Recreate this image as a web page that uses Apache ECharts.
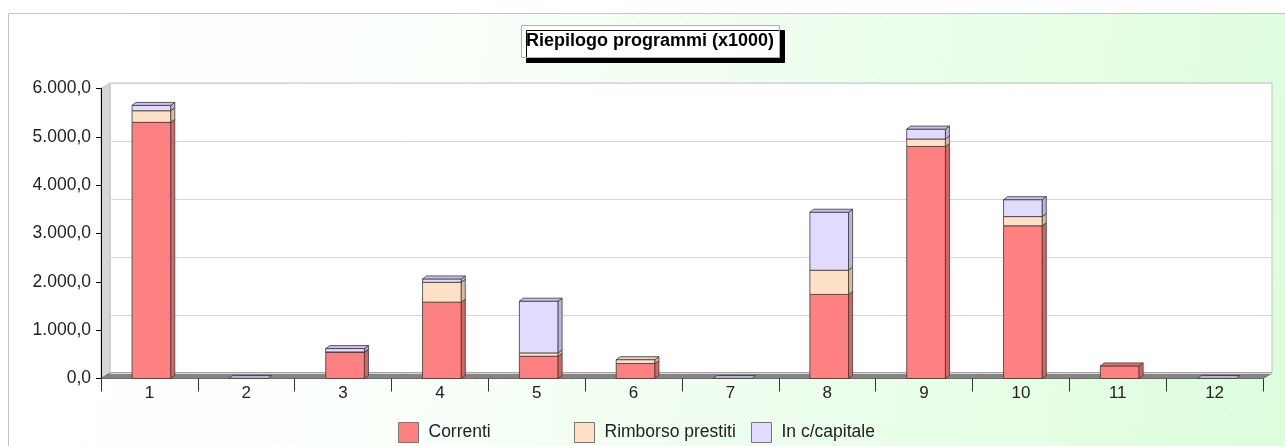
<!DOCTYPE html>
<html>
<head>
<meta charset="utf-8">
<script src="https://cdn.jsdelivr.net/npm/echarts@6/dist/echarts.min.js"></script>
<style>
  html, body { margin: 0; padding: 0; background: #fff; }
  #chart { width: 1285px; height: 446px; }
</style>
</head>
<body>
<div id="chart"></div>
<script>
// dati (x1000)
const categories = ['1', '2', '3', '4', '5', '6', '7', '8', '9', '10', '11', '12'];
const correnti = [5300, 0, 540, 1580, 460, 310, 0, 1740, 4800, 3160, 260, 0];
const rimborso = [240, 0, 10, 410, 70, 80, 0, 500, 155, 190, 0, 0];
const capitale = [110, 0, 70, 70, 1070, 0, 0, 1200, 205, 350, 0, 0];
const seriesNames = ['Correnti', 'Rimborso prestiti', 'In c/capitale'];
const yTickStep = 1000;
const yMax = 6000;

// colori: fronte, lato, sopra
const palette = [
  { fill: '#ff8080', side: '#d86464', top: '#e87272' },
  { fill: '#ffe1c8', side: '#d8bca4', top: '#e8cdb4' },
  { fill: '#e3daff', side: '#bdb4dc', top: '#c9c0ea' },
];

// layout: parete di fondo e piano frontale (pseudo 3D)
const front = { left: 101, top: 88.5, width: 1162, height: 290 };
const depth = { dx: 9, dy: 5.5 };

const allValues = [correnti, rimborso, capitale];

// numero in formato italiano: 6.000,0
const itNum = (v) => Math.round(v).toString().replace(/\B(?=(\d{3})+(?!\d))/g, '.') + ',0';

// dati impilati [indice, base, cima, isTop]
const stacked = allValues.map((vals, k) => vals.map((v, i) => {
  let base = 0;
  for (let j = 0; j < k; j++) base += allValues[j][i];
  let above = 0;
  for (let j = k + 1; j < allValues.length; j++) above += allValues[j][i];
  const total = base + v + above;
  const isTop = (v > 0 && above === 0) || (total === 0 && k === allValues.length - 1) ? 1 : 0;
  return [i, base, base + v, isTop];
}));

const renderBox = (col) => (params, api) => {
  const i = api.value(0);
  const lo = api.value(1);
  const hi = api.value(2);
  const isTop = api.value(3);
  const a = api.coord([i, lo]);
  const b = api.coord([i, hi]);
  const w = api.size([1, 0])[0] * 0.4;
  const x0 = a[0] - w / 2 + 2;
  const x1 = x0 + w;
  const y0 = a[1];
  const y1 = b[1];
  const dx = 4, dy = 3;
  const stroke = { stroke: '#3a3a3a', lineWidth: 0.8 };
  const children = [];
  if (y0 - y1 > 0.2) {
    children.push({
      type: 'rect',
      shape: { x: x0, y: y1, width: w, height: y0 - y1 },
      style: Object.assign({ fill: col.fill }, stroke),
    });
    children.push({
      type: 'polygon',
      shape: { points: [[x1, y0], [x1 + dx, y0 - dy], [x1 + dx, y1 - dy], [x1, y1]] },
      style: Object.assign({ fill: col.side }, stroke),
    });
  }
  if (isTop) {
    const zero = y0 - y1 <= 0.2;
    children.push({
      type: 'polygon',
      shape: { points: [[x0, y1], [x0 + dx, y1 - dy], [x1 + dx, y1 - dy], [x1, y1]] },
      style: Object.assign({ fill: zero ? '#b8b0d4' : col.top }, stroke),
    });
  }
  return { type: 'group', children };
};

const chart = echarts.init(document.getElementById('chart'));

const legendCommon = {
  icon: 'rect',
  itemWidth: 20,
  itemHeight: 20,
  top: 417,
  itemStyle: { borderColor: '#777', borderWidth: 1 },
  textStyle: { fontSize: 17.5, color: '#222', padding: [0, 0, 0, 5] },
};

chart.setOption({
  animation: false,
  textStyle: { fontFamily: 'Liberation Sans, Arial, sans-serif' },
  title: {
    text: 'Riepilogo programmi (x1000)',
    left: 521,
    top: 25,
    padding: [7, 6, 8, 5],
    backgroundColor: '#fff',
    borderColor: '#b0b0b0',
    borderWidth: 1,
    shadowColor: '#000',
    shadowOffsetX: 5,
    shadowOffsetY: 5,
    shadowBlur: 0,
    textStyle: { fontSize: 18, fontWeight: 'bold', color: '#000' },
  },
  legend: [
    Object.assign({ data: [seriesNames[0]], left: 393 }, legendCommon),
    Object.assign({ data: [seriesNames[1]], left: 569 }, legendCommon),
    Object.assign({ data: [seriesNames[2]], left: 746 }, legendCommon),
  ],
  graphic: [
    {
      type: 'rect',
      z: -10,
      silent: true,
      shape: { x: 8.5, y: 13.5, width: 1300, height: 500 },
      style: {
        fill: new echarts.graphic.LinearGradient(0, 0, 1, 0.4, [
          { offset: 0, color: '#ffffff' },
          { offset: 0.3, color: '#fbfffb' },
          { offset: 1, color: '#ddfddd' },
        ]),
        stroke: '#c4c4c4',
        lineWidth: 1,
      },
    },
    {
      // parete sinistra
      type: 'polygon',
      silent: true,
      shape: {
        points: [
          [front.left, front.top],
          [front.left + depth.dx, front.top - depth.dy],
          [front.left + depth.dx, front.top + front.height - depth.dy],
          [front.left, front.top + front.height],
        ],
      },
      style: { fill: '#d6d6d6', stroke: '#c0c0c0', lineWidth: 1 },
    },
    {
      // pavimento
      type: 'polygon',
      silent: true,
      shape: {
        points: [
          [front.left, front.top + front.height],
          [front.left + front.width, front.top + front.height],
          [front.left + front.width + depth.dx, front.top + front.height - depth.dy],
          [front.left + depth.dx, front.top + front.height - depth.dy],
        ],
      },
      style: { fill: '#858585', stroke: '#6a6a6a', lineWidth: 1 },
    },
  ],
  grid: [
    {
      left: front.left + depth.dx,
      top: front.top - depth.dy,
      width: front.width,
      height: front.height,
      show: true,
      backgroundColor: '#fff',
      borderColor: '#c4c4c4',
      borderWidth: 1,
    },
    {
      left: front.left,
      top: front.top,
      width: front.width,
      height: front.height,
    },
  ],
  xAxis: [
    { gridIndex: 0, type: 'category', data: categories, show: false },
    {
      gridIndex: 1,
      type: 'category',
      data: categories,
      axisLine: { show: true, lineStyle: { color: '#6a6a6a', width: 1 } },
      axisTick: { show: true, length: 13, lineStyle: { color: '#333' } },
      axisLabel: { fontSize: 17, color: '#222', margin: 6 },
    },
  ],
  yAxis: [
    {
      gridIndex: 0,
      type: 'value',
      min: 0,
      max: yMax,
      interval: yMax / 5,
      axisLabel: { show: false },
      axisLine: { show: false },
      axisTick: { show: false },
      splitLine: { show: true, lineStyle: { color: '#d6d6d6' } },
    },
    {
      gridIndex: 1,
      type: 'value',
      min: 0,
      max: yMax,
      interval: yTickStep,
      axisLine: { show: true, lineStyle: { color: '#000' } },
      axisTick: { show: true, length: 5, lineStyle: { color: '#000' } },
      splitLine: { show: false },
      axisLabel: { fontSize: 17.5, color: '#222', margin: 10, formatter: itNum },
    },
  ],
  series: stacked.map((data, k) => ({
    name: seriesNames[k],
    type: 'custom',
    xAxisIndex: 1,
    yAxisIndex: 1,
    itemStyle: { color: palette[k].fill },
    encode: { x: 0, y: [1, 2] },
    renderItem: renderBox(palette[k]),
    data,
  })),
});
</script>
</body>
</html>
